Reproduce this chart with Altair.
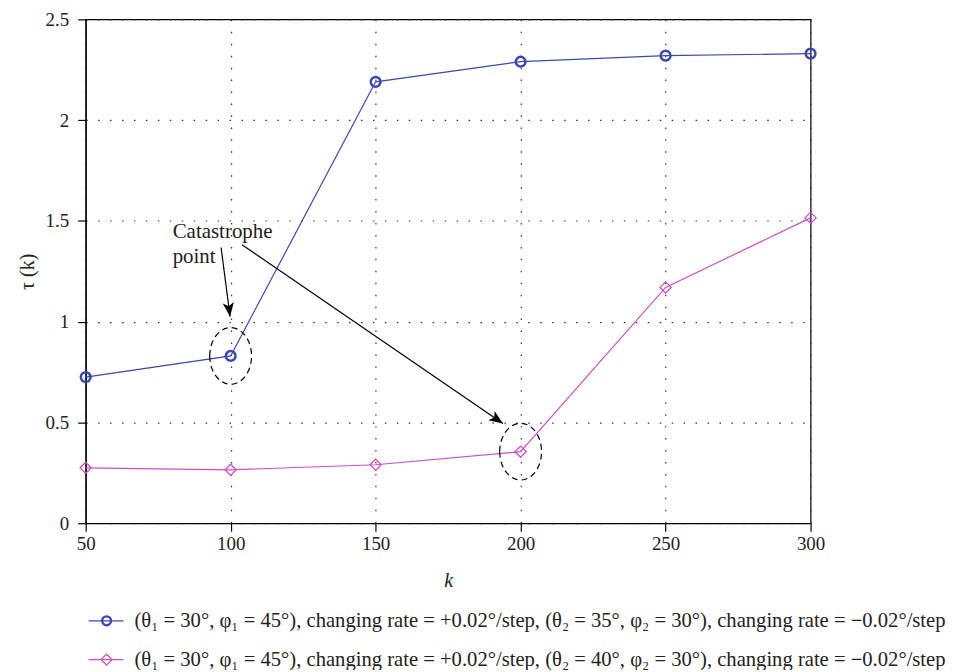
import altair as alt
import pandas as pd

# ---- data ----
k_values = [50, 100, 150, 200, 250, 300]
tau_series1 = [0.725, 0.83, 2.19, 2.29, 2.32, 2.33]
tau_series2 = [0.275, 0.265, 0.29, 0.355, 1.17, 1.515]
series_labels = [
    "(θ₁ = 30°, φ₁ = 45°), changing rate = +0.02°/step, (θ₂ = 35°, φ₂ = 30°), changing rate = −0.02°/step",
    "(θ₁ = 30°, φ₁ = 45°), changing rate = +0.02°/step, (θ₂ = 40°, φ₂ = 30°), changing rate = −0.02°/step",
]
colors = ["#3d47b3", "#d04fc0"]

# annotation
note_lines = ["Catastrophe", "point"]
note_x = [80, 80]
note_y = [1.417, 1.292]
ellipse_k = [100, 200]
ellipse_tau = [0.83, 0.355]
arrow_x = [96.7, 103.9]
arrow_y = [1.368, 1.382]
arrow_x2 = [99.8, 193.9]
arrow_y2 = [1.025, 0.495]
arrow_angle = [172.7, 124.6]

FONT = "Liberation Serif"
W, H = 728, 506

df1 = pd.DataFrame({"k": k_values, "tau": tau_series1})
df2 = pd.DataFrame({"k": k_values, "tau": tau_series2})
notes = pd.DataFrame({"x": note_x, "y": note_y, "t": note_lines})
ell = pd.DataFrame({"k": ellipse_k, "tau": ellipse_tau})
arr = pd.DataFrame({"x": arrow_x, "y": arrow_y, "x2": arrow_x2, "y2": arrow_y2, "a": arrow_angle})

xs = alt.Scale(domain=[50, 300], nice=False, zero=False)
ys = alt.Scale(domain=[0, 2.5], nice=False)

xax = alt.Axis(values=k_values, title="k", titleFontStyle="italic", titlePadding=18,
               labelPadding=3, labelFlush=False)
yax = alt.Axis(values=[0, 0.5, 1, 1.5, 2, 2.5], title="τ (k)", titlePadding=8,
               labelPadding=9, labelFlush=False, labelExpr="format(datum.value, '~g')")

base_x = alt.X("k:Q", scale=xs, axis=xax)
base_y = alt.Y("tau:Q", scale=ys, axis=yax)

line1 = alt.Chart(df1).mark_line(color=colors[0], strokeWidth=1.2).encode(x=base_x, y=base_y)
pts1 = alt.Chart(df1).mark_point(shape="circle", filled=False, color=colors[0], size=95,
                                 strokeWidth=2.5, opacity=1).encode(x="k:Q", y="tau:Q")
line2 = alt.Chart(df2).mark_line(color=colors[1], strokeWidth=1.2).encode(x="k:Q", y="tau:Q")
pts2 = alt.Chart(df2).mark_point(shape="diamond", filled=False, color=colors[1], size=125,
                                 strokeWidth=1.3, opacity=1).encode(x="k:Q", y="tau:Q")

ELL = "M -0.737 0 A 0.737 1 0 1 0 0.737 0 A 0.737 1 0 1 0 -0.737 0 Z"
ellipses = alt.Chart(ell).mark_point(shape=ELL, filled=False, color="black", size=3249,
                                     strokeWidth=1.2, strokeDash=[6, 4], opacity=1).encode(
    x="k:Q", y="tau:Q")

arrows = alt.Chart(arr).mark_rule(color="black", strokeWidth=1.2).encode(
    x="x:Q", y="y:Q", x2="x2:Q", y2="y2:Q")
HEAD = "M 0 0 L 0.4 1 L 0 0.75 L -0.4 1 Z"
heads = alt.Chart(arr).mark_point(shape=HEAD, filled=True, color="black", size=784,
                                  opacity=1, strokeWidth=0).encode(
    x="x2:Q", y="y2:Q", angle=alt.Angle("a:Q", scale=None))

note = alt.Chart(notes).mark_text(align="left", baseline="alphabetic", font=FONT,
                                  fontSize=21, color="#222").encode(
    x="x:Q", y="y:Q", text="t:N")

# legend (below the plot)
leg_rows = [604, 643]
legend_layers = []
for i, (lab, col) in enumerate(zip(series_labels, colors)):
    ly = leg_rows[i]
    ldf = pd.DataFrame({"label": [lab]})
    legend_layers.append(alt.Chart(ldf).mark_rule(color=col, strokeWidth=1.2).encode(
        x=alt.value(3), x2=alt.value(38), y=alt.value(ly)))
    if i == 0:
        legend_layers.append(alt.Chart(ldf).mark_point(shape="circle", filled=False, color=col,
                                                       size=78, strokeWidth=2.4, opacity=1).encode(
            x=alt.value(21), y=alt.value(ly)))
    else:
        legend_layers.append(alt.Chart(ldf).mark_point(shape="diamond", filled=False, color=col,
                                                       size=120, strokeWidth=1.3, opacity=1).encode(
            x=alt.value(21), y=alt.value(ly)))
    legend_layers.append(alt.Chart(ldf).mark_text(align="left", baseline="middle", font=FONT,
                                                  fontSize=20.7, color="#222").encode(
        x=alt.value(49), y=alt.value(ly), text="label:N"))

chart = alt.layer(line1, line2, pts1, pts2, ellipses, arrows, heads, note, *legend_layers).properties(
    width=W, height=H,
    background="white",
    autosize=alt.AutoSizeParams(type="none"),
    padding={"left": 78, "top": 10, "right": 136, "bottom": 146},
).configure_view(
    stroke="black", strokeWidth=1.2
).configure_axis(
    domainColor="black", domainWidth=1.2,
    tickColor="black", tickWidth=1.2, tickSize=8,
    grid=True, gridColor="#333", gridWidth=1.2, gridDash=[1.5, 10.5],
    labelFont=FONT, labelFontSize=19, labelColor="#222",
    titleFont=FONT, titleFontSize=20, titleFontWeight="normal", titleColor="#222",
)

chart.save("out.html", embed_options={"renderer": "svg", "actions": False})
